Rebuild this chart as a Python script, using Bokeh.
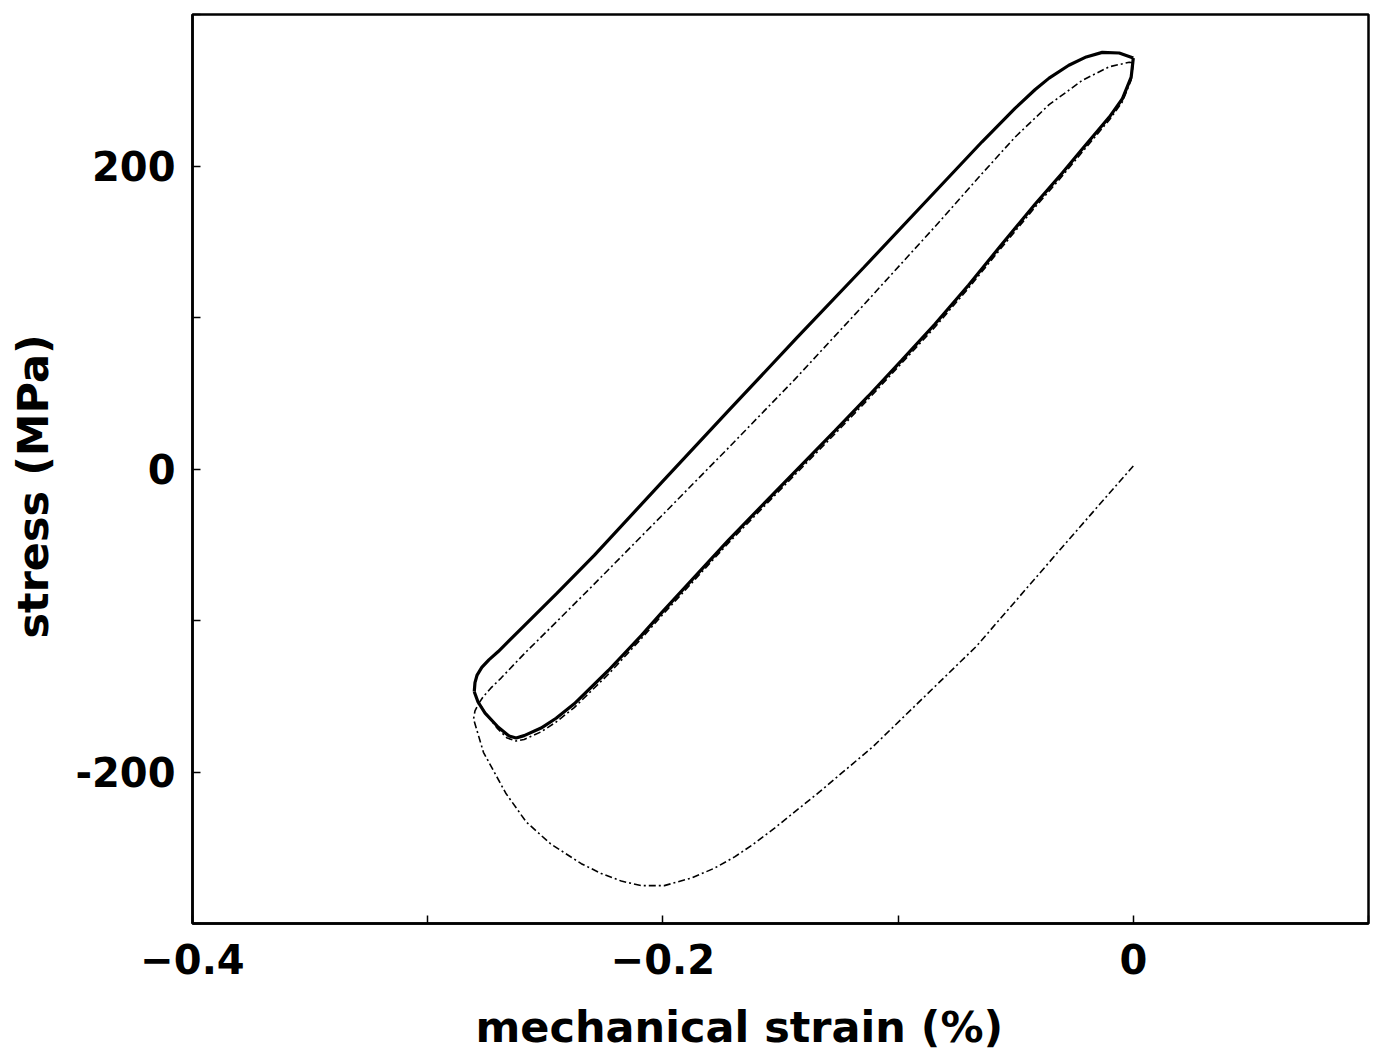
from bokeh.plotting import figure
from bokeh.models import Range1d, FixedTicker, CustomJSTickFormatter, Title
from bokeh.embed import file_html
from bokeh.resources import INLINE

# ---- data (mechanical strain in %, stress in MPa) ----
# first half cycle (initial loading), thin dash-dot
initial_strain = [0.000, -0.0268, -0.0667, -0.1105, -0.1333, -0.1525, -0.1623, -0.1695, -0.1781, -0.1879,
                  -0.1994, -0.2092, -0.2177, -0.2262, -0.2347, -0.2477, -0.2581, -0.2668, -0.2763, -0.2805,
                  -0.2799, -0.2782]
initial_stress = [2.0, -45.5, -117.0, -183.0, -213.0, -237.0, -248.5, -256.0, -263.5, -270.0,
                  -275.0, -275.0, -272.0, -267.0, -260.5, -247.5, -233.0, -214.0, -187.0, -165.0,
                  -159.7, -154.5]

# first cycle, thin dash-dot: rising branch
c1_up_strain = [-0.2782, -0.2765, -0.2731, -0.2688, -0.2590, -0.2450, -0.2305, -0.2006, -0.1721, -0.1440,
                -0.1154, -0.0843, -0.0643, -0.0503, -0.0358, -0.0217, -0.0102, -0.0017, 0.0]
c1_up_stress = [-154.5, -150.5, -144.5, -138.0, -122.0, -100.5, -78.0, -31.0, 14.0, 59.0,
                107.0, 160.0, 195.0, 219.0, 240.5, 256.5, 265.5, 268.5, 268.0]
# first cycle, thin dash-dot: falling branch
c1_down_strain = [0.0, -0.0009, -0.0047, -0.0102, -0.0217, -0.0302, -0.0417, -0.0558, -0.0700, -0.0843,
                  -0.0984, -0.1126, -0.1269, -0.1440, -0.1721, -0.2006, -0.2092, -0.2232, -0.2377, -0.2454,
                  -0.2518, -0.2590, -0.2624, -0.2662, -0.2705, -0.2748, -0.2782]
c1_down_stress = [268.0, 256.8, 242.2, 230.4, 209.2, 193.4, 172.9, 146.5, 119.5, 93.7,
                  70.0, 46.2, 23.1, -4.0, -48.8, -97.0, -112.0, -135.5, -157.5, -167.0,
                  -173.5, -178.5, -179.5, -177.6, -171.0, -162.4, -154.5]

# later cycle, thick solid: rising branch
c2_up_strain = [-0.2802, -0.2799, -0.2790, -0.2770, -0.2740, -0.2700, -0.2600, -0.2450, -0.2292, -0.2006,
                -0.1721, -0.1431, -0.1146, -0.0843, -0.0643, -0.0503, -0.0417, -0.0358, -0.0274, -0.0200,
                -0.0132, -0.0060, 0.0]
c2_up_stress = [-147.0, -141.0, -136.0, -131.0, -126.0, -120.5, -105.0, -82.0, -57.0, -9.0,
                38.5, 86.5, 133.0, 183.0, 216.0, 238.0, 250.5, 258.0, 266.5, 272.0,
                275.0, 274.6, 271.3]
# later cycle, thick solid: falling branch
c2_down_strain = [0.0, -0.0009, -0.0047, -0.0102, -0.0217, -0.0302, -0.0417, -0.0558, -0.0700, -0.0843,
                  -0.0984, -0.1126, -0.1269, -0.1440, -0.1721, -0.2006, -0.2092, -0.2232, -0.2377, -0.2454,
                  -0.2518, -0.2590, -0.2624, -0.2654, -0.2701, -0.2756, -0.2786, -0.2802]
c2_down_stress = [271.3, 258.7, 244.2, 232.3, 211.2, 195.4, 174.9, 148.5, 121.5, 95.7,
                  71.9, 48.2, 25.1, -2.0, -46.9, -95.0, -110.0, -133.0, -155.0, -164.5,
                  -171.0, -176.0, -177.6, -176.2, -170.3, -161.1, -153.8, -147.0]

x_major = [-0.4, -0.2, 0.0]
x_minor = [-0.3, -0.1, 0.1]
y_major = [-200, 0, 200]
y_minor = [-300, -100, 100, 300]
x_title = "mechanical strain (%)"
y_title = "stress (MPa)"

FONT = "DejaVu Sans"

p = figure(width=1372, height=1061, output_backend="svg", toolbar_location=None,
           x_range=Range1d(-0.4, 0.1), y_range=Range1d(-300, 300),
           min_border_left=192, min_border_top=14, min_border_right=4, min_border_bottom=138)
p.background_fill_color = "white"
p.border_fill_color = "white"
p.grid.visible = False
p.outline_line_color = "black"
p.outline_line_width = 2.5

dd = "7 3 2 3"
p.line(initial_strain, initial_stress, line_color="black", line_width=1.6, line_dash=dd)
p.line(c1_up_strain, c1_up_stress, line_color="black", line_width=1.6, line_dash=dd)
p.line(c1_down_strain, c1_down_stress, line_color="black", line_width=1.6, line_dash=dd)
p.line(c2_up_strain, c2_up_stress, line_color="black", line_width=3.2)
p.line(c2_down_strain, c2_down_stress, line_color="black", line_width=3.2)

for ax, major, minor, code in [
    (p.xaxis[0], x_major, x_minor,
     "return tick == 0 ? '0' : (tick < 0 ? '\u2212' : '') + Math.abs(tick).toFixed(1);"),
    (p.yaxis[0], y_major, y_minor,
     "return tick == 0 ? '0' : (tick < 0 ? '-' : '') + Math.abs(tick).toFixed(0);"),
]:
    ax.ticker = FixedTicker(ticks=major, minor_ticks=minor)
    ax.formatter = CustomJSTickFormatter(code=code)
    ax.major_tick_in = 8
    ax.major_tick_out = 0
    ax.minor_tick_in = 8
    ax.minor_tick_out = 0
    ax.major_tick_line_width = 1.5
    ax.minor_tick_line_width = 1.5
    ax.axis_line_width = 2.5
    ax.major_label_text_font = FONT
    ax.major_label_text_font_style = "bold"
    ax.major_label_text_font_size = "40px"
    ax.major_label_text_color = "black"
    # a blank, tiny axis label only reserves a gap before the title panel
    ax.axis_label = " "
    ax.axis_label_text_font_size = "1px"

p.xaxis.major_label_standoff = 20
p.yaxis.major_label_standoff = 17
p.yaxis.major_label_orientation = "horizontal"
p.xaxis.axis_label_standoff = 19
p.yaxis.axis_label_standoff = 11

xt = Title(text=x_title, align="left", offset=283, standoff=0,
           text_font=FONT, text_font_style="bold", text_font_size="43px", text_color="black")
p.add_layout(xt, "below")
yt = Title(text=y_title, align="left", offset=285, standoff=0,
           text_font=FONT, text_font_style="bold", text_font_size="43px", text_color="black")
p.add_layout(yt, "left")

open("out.html", "w").write(file_html(p, INLINE))
